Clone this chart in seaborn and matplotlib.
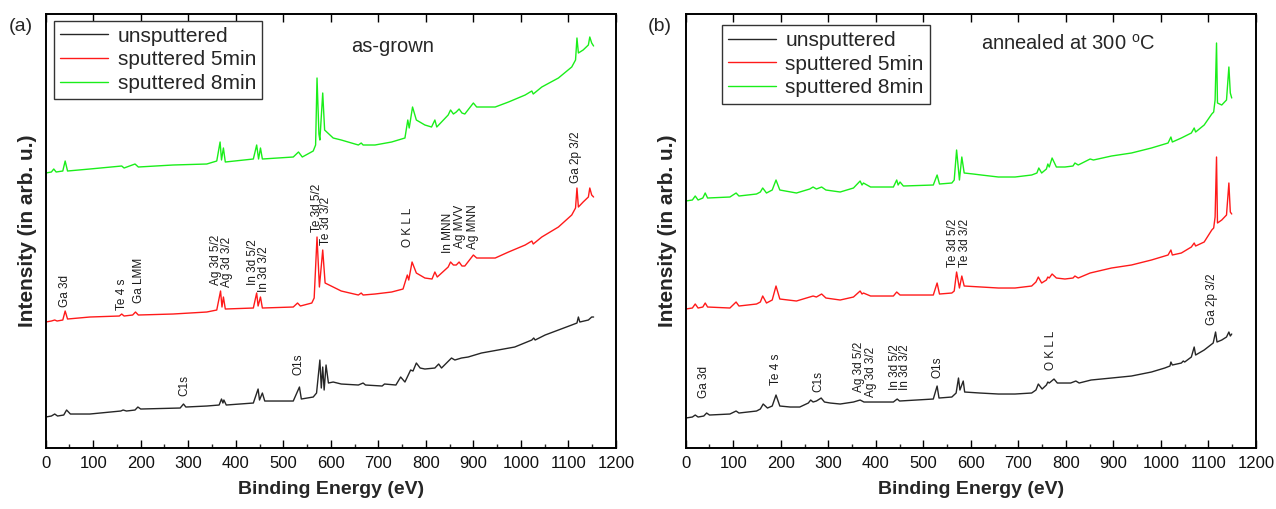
import matplotlib
matplotlib.use("Agg")
import matplotlib.pyplot as plt
from matplotlib.ticker import MultipleLocator
import pandas as pd
import seaborn as sns

# ---------------- survey spectra, panel (a): as-grown ----------------
A_UNSP_E = [0, 12, 19, 25, 38, 44, 52, 93, 158, 163, 170, 188, 194, 200, 283, 290, 295,
            339, 365, 370, 373, 375, 380, 437, 447, 450, 456, 461, 521, 534, 538, 563,
            570, 577, 580, 583, 586, 590, 595, 605, 622, 658, 668, 673, 708, 713, 737,
            747, 756, 768, 773, 780, 788, 798, 819, 827, 833, 854, 861, 875, 889, 917,
            952, 987, 1023, 1027, 1030, 1051, 1079, 1107, 1118, 1121, 1124, 1142, 1149, 1153]
A_UNSP_I = [31, 32, 34, 32, 33, 38, 34, 34, 37, 38, 37, 38, 41, 39, 40, 44, 41,
            42, 43, 49, 45, 48, 43, 45, 59, 48, 55, 47, 47, 61, 49, 51,
            55, 88, 60, 81, 58, 83, 65, 66, 64, 63, 65, 63, 62, 64, 63,
            71, 66, 78, 77, 85, 80, 79, 80, 84, 80, 90, 88, 90, 91, 95,
            98, 101, 108, 110, 108, 113, 118, 123, 125, 131, 126, 128, 131, 131]

A_S5_E = [0, 12, 19, 24, 36, 41, 46, 93, 155, 160, 165, 183, 189, 195, 268, 339, 360,
          368, 371, 374, 378, 437, 444, 447, 452, 456, 521, 530, 536, 560, 565, 571,
          576, 583, 588, 605, 622, 658, 664, 668, 693, 728, 752, 761, 764, 771, 780,
          798, 813, 819, 824, 847, 852, 858, 864, 870, 876, 882, 900, 907, 946, 974,
          1009, 1023, 1026, 1044, 1079, 1107, 1115, 1118, 1121, 1131, 1142, 1145, 1149, 1153]
A_S5_I = [126, 127, 128, 127, 128, 137, 129, 131, 132, 134, 132, 133, 136, 133, 134, 136, 138,
          157, 141, 151, 139, 140, 155, 142, 151, 140, 141, 145, 142, 145, 150, 211,
          161, 198, 165, 161, 157, 153, 155, 153, 154, 156, 159, 173, 168, 186, 175,
          170, 169, 176, 171, 181, 186, 183, 183, 186, 182, 182, 193, 190, 190, 196,
          203, 207, 204, 211, 221, 233, 240, 260, 241, 246, 251, 260, 253, 251]

A_S8_E = [0, 12, 17, 22, 36, 41, 46, 93, 160, 165, 188, 195, 268, 339, 360, 367, 370,
          374, 378, 437, 444, 448, 452, 456, 521, 532, 540, 563, 568, 571, 575, 577,
          583, 587, 605, 622, 658, 664, 668, 693, 728, 756, 762, 765, 772, 780, 798,
          812, 819, 823, 847, 852, 858, 864, 870, 876, 882, 900, 907, 946, 974, 1009,
          1023, 1026, 1044, 1079, 1107, 1115, 1118, 1121, 1131, 1142, 1145, 1149, 1153]
A_S8_I = [275, 276, 279, 276, 277, 287, 277, 279, 282, 280, 284, 281, 283, 284, 287, 306, 288,
          300, 286, 289, 303, 289, 300, 289, 291, 296, 291, 297, 303, 370, 314, 308,
          355, 318, 310, 308, 303, 305, 303, 303, 306, 310, 328, 320, 341, 328, 323,
          321, 328, 321, 333, 338, 334, 336, 339, 335, 334, 345, 341, 341, 346, 353,
          357, 354, 361, 370, 381, 388, 410, 395, 398, 403, 411, 405, 402]

# ---------------- survey spectra, panel (b): annealed at 300 C ----------------
B_UNSP_E = [0, 14, 20, 26, 38, 44, 50, 93, 106, 112, 149, 157, 163, 172, 182, 190, 198,
            220, 240, 258, 263, 268, 275, 285, 292, 304, 325, 353, 367, 375, 437, 445,
            450, 521, 529, 533, 560, 569, 574, 577, 584, 587, 619, 658, 693, 728, 737,
            742, 750, 759, 762, 765, 775, 782, 810, 821, 828, 853, 896, 938, 980, 1008,
            1019, 1021, 1024, 1043, 1047, 1050, 1064, 1070, 1073, 1091, 1110, 1115, 1118,
            1128, 1138, 1143, 1146, 1149]
B_UNSP_I = [30, 31, 33, 31, 32, 35, 33, 34, 37, 35, 37, 39, 44, 40, 42, 53, 42,
            41, 41, 45, 48, 46, 47, 50, 46, 45, 44, 46, 48, 46, 46, 49,
            47, 49, 62, 50, 51, 55, 70, 58, 67, 56, 55, 54, 54, 55, 58,
            64, 59, 63, 66, 65, 69, 65, 65, 67, 65, 68, 70, 72, 76, 80,
            82, 86, 83, 85, 87, 86, 91, 101, 93, 98, 105, 116, 106,
            108, 111, 116, 112, 114]

B_S5_E = [0, 14, 20, 26, 36, 41, 46, 93, 106, 112, 149, 157, 162, 170, 182, 190, 198,
          233, 261, 268, 275, 286, 295, 325, 353, 367, 371, 374, 389, 437, 444, 451,
          521, 529, 534, 560, 565, 570, 576, 581, 586, 622, 658, 693, 728, 737, 742,
          749, 759, 762, 765, 771, 780, 798, 815, 819, 826, 851, 896, 938, 980, 1015,
          1021, 1024, 1043, 1064, 1070, 1073, 1091, 1107, 1111, 1114, 1117, 1119, 1128,
          1138, 1143, 1146, 1149]
B_S5_I = [139, 140, 144, 140, 141, 145, 141, 140, 146, 142, 144, 146, 152, 145, 148, 162, 149,
          147, 151, 152, 151, 154, 150, 148, 151, 157, 154, 155, 152, 152, 156, 153,
          153, 165, 154, 155, 157, 176, 160, 172, 162, 161, 160, 160, 162, 166, 171,
          165, 168, 171, 170, 174, 170, 169, 170, 172, 170, 175, 180, 183, 188, 193,
          198, 193, 195, 201, 205, 202, 206, 218, 220, 231, 291, 225, 228,
          233, 265, 236, 234]

B_S8_E = [0, 14, 20, 26, 36, 41, 46, 93, 106, 112, 149, 157, 162, 170, 182, 190, 198,
          233, 261, 268, 275, 286, 295, 325, 353, 367, 371, 374, 389, 437, 444, 447,
          451, 458, 521, 529, 534, 560, 565, 570, 576, 581, 586, 605, 622, 658, 693,
          728, 739, 743, 749, 759, 762, 765, 771, 780, 798, 815, 819, 826, 851, 858,
          896, 938, 980, 1015, 1021, 1024, 1043, 1064, 1070, 1073, 1091, 1107, 1111,
          1114, 1117, 1119, 1128, 1138, 1143, 1146, 1149]
B_S8_I = [247, 248, 252, 248, 250, 255, 250, 251, 255, 252, 254, 256, 260, 255, 258, 268, 258,
          255, 259, 261, 259, 261, 258, 256, 260, 267, 263, 265, 261, 261, 268, 263,
          266, 262, 263, 273, 264, 265, 268, 298, 268, 291, 275, 274, 273, 271, 271,
          273, 275, 280, 275, 279, 284, 281, 290, 281, 281, 282, 285, 283, 289, 288,
          292, 295, 300, 305, 311, 306, 310, 315, 320, 316, 323, 334, 336,
          348, 405, 345, 343, 348, 381, 355, 350]

SAMPLES = ["unsputtered", "sputtered 5min", "sputtered 8min"]
COLORS = {"unsputtered": "#262626", "sputtered 5min": "#ff1a1a", "sputtered 8min": "#1aee1a"}

# peak assignments: (label, energy, intensity at the foot of the label)
A_LABELS = ["Ga 3d", "Te 4 s", "Ga LMM", "Ag 3d 5/2", "Ag 3d 3/2", "In 3d 5/2", "In 3d 3/2",
            "Te 3d 5/2", "Te 3d 3/2", "C1s", "O1s", "O K L L", "In MNN", "Ag MVV", "Ag MNN",
            "Ga 2p 3/2"]
A_LABEL_E = [40, 160, 196, 358, 381, 436, 459, 570, 590, 291, 533, 762, 846, 872, 899, 1116]
A_LABEL_I = [141, 138, 145, 163, 161, 163, 156, 216, 203, 52, 73, 201, 195, 200, 199, 265]

B_LABELS = ["Ga 3d", "Te 4 s", "C1s", "Ag 3d 5/2", "Ag 3d 3/2", "In 3d 5/2", "In 3d 3/2",
            "O1s", "Te 3d 5/2", "Te 3d 3/2", "O K L L", "Ga 2p 3/2"]
B_LABEL_E = [38, 189, 280, 365, 390, 440, 461, 530, 562, 588, 769, 1107]
B_LABEL_I = [50, 63, 56, 56, 51, 58, 58, 70, 181, 181, 78, 123]

sns.set_theme(style="ticks")
plt.rcParams["font.family"] = ["Liberation Sans", "DejaVu Sans"]
plt.rcParams["mathtext.fontset"] = "custom"
plt.rcParams["mathtext.rm"] = "Liberation Sans"
plt.rcParams["mathtext.it"] = "Liberation Sans:italic"


def frame(series):
    rows = []
    for name, (e, i) in zip(SAMPLES, series):
        rows.append(pd.DataFrame({"energy": e, "intensity": i, "sample": name}))
    return pd.concat(rows, ignore_index=True)


def draw_panel(ax, data, labels, lab_e, lab_i, title, title_xy, legend_xy):
    sns.lineplot(data=data, x="energy", y="intensity", hue="sample", hue_order=SAMPLES,
                 palette=COLORS, estimator=None, linewidth=1.0, ax=ax)
    ax.set_xlim(0, 1200)
    ax.set_ylim(0, 434)
    ax.set_yticks([])
    ax.xaxis.set_major_locator(MultipleLocator(100))
    ax.xaxis.set_minor_locator(MultipleLocator(50))
    ax.tick_params(axis="x", which="major", direction="in", top=True, bottom=True,
                   length=5.5, width=1.0, labelsize=12, pad=6, colors="black")
    ax.tick_params(axis="x", which="minor", direction="in", top=False, bottom=True,
                   length=3, width=1.0)
    ax.tick_params(axis="x", labelcolor="#111111")
    for s in ax.spines.values():
        s.set_visible(True)
        s.set_linewidth(1.4)
        s.set_color("black")
    ax.set_xlabel("Binding Energy (eV)", fontsize=14, fontweight="bold", labelpad=7)
    ax.set_ylabel("Intensity (in arb. u.)", fontsize=15, fontweight="bold", labelpad=6)
    for t, e, i in zip(labels, lab_e, lab_i):
        ax.text(e, i, t, rotation=90, ha="center", va="bottom", fontsize=8.5,
                color="#1a1a1a")
    ax.text(title_xy[0], title_xy[1], title, ha="center", va="center", fontsize=14.5)
    handles, labs = ax.get_legend_handles_labels()
    leg = ax.legend(handles, labs, loc="upper left", bbox_to_anchor=legend_xy,
                    borderaxespad=0, fontsize=15, frameon=True, fancybox=False,
                    framealpha=1, edgecolor="#333333", handlelength=2.3,
                    handletextpad=0.45, labelspacing=0.22, borderpad=0.3)
    leg.get_frame().set_linewidth(1.0)
    for ln in leg.get_lines():
        ln.set_linewidth(1.0)


fig = plt.figure(figsize=(12.76, 5.09), dpi=100)
ax_a = fig.add_axes([0.0358, 0.1198, 0.4469, 0.8527])
ax_b = fig.add_axes([0.5374, 0.1198, 0.4469, 0.8527])

data_a = frame([(A_UNSP_E, A_UNSP_I), (A_S5_E, A_S5_I), (A_S8_E, A_S8_I)])
data_b = frame([(B_UNSP_E, B_UNSP_I), (B_S5_E, B_S5_I), (B_S8_E, B_S8_I)])

draw_panel(ax_a, data_a, A_LABELS, A_LABEL_E, A_LABEL_I, "as-grown", (731, 401),
           (0.0146, 0.985))
draw_panel(ax_b, data_b, B_LABELS, B_LABEL_E, B_LABEL_I,
           "annealed at 300 $^{\\mathrm{o}}$C", (804, 404), (0.063, 0.975))

fig.text(0.0165, 0.948, "(a)", ha="center", va="center", fontsize=14)
fig.text(0.517, 0.948, "(b)", ha="center", va="center", fontsize=14)

fig.savefig("out.png", dpi=100)
